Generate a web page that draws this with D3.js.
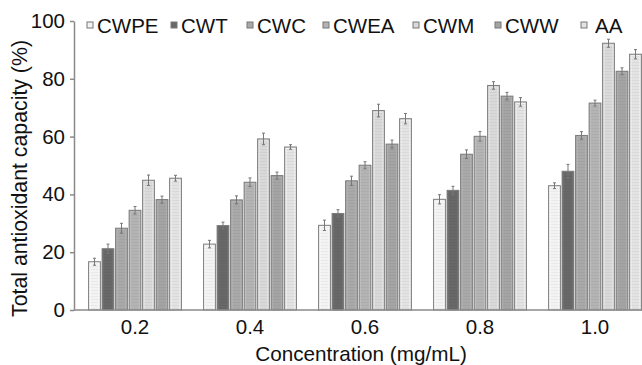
<!DOCTYPE html>
<html>
<head>
<meta charset="utf-8">
<script src="https://cdn.jsdelivr.net/npm/d3@7"></script>
<style>
  body { margin: 0; background: #fff; }
  svg text { font-family: "Liberation Sans", Arial, sans-serif; fill: #111; }
</style>
</head>
<body>
<div id="chart"></div>
<script>
// data
var concentrations = ["0.2", "0.4", "0.6", "0.8", "1.0"];
var seriesNames = ["CWPE", "CWT", "CWC", "CWEA", "CWM", "CWW", "AA"];
var values = [
  [16.7, 22.8, 29.3, 38.3, 43.0],   // CWPE
  [21.2, 29.2, 33.4, 41.4, 48.0],   // CWT
  [28.3, 38.1, 44.7, 53.9, 60.4],   // CWC
  [34.5, 44.2, 50.1, 60.1, 71.6],   // CWEA
  [44.9, 59.2, 69.0, 77.7, 92.3],   // CWM
  [38.2, 46.5, 57.4, 74.0, 82.6],   // CWW
  [45.6, 56.4, 66.2, 72.0, 88.5]    // AA
];
var errors = [
  [1.2, 1.3, 1.8, 1.6, 1.0],
  [1.6, 1.2, 1.3, 1.4, 2.4],
  [1.7, 1.4, 1.6, 1.5, 1.3],
  [1.3, 1.5, 1.2, 1.7, 1.0],
  [1.8, 2.0, 2.2, 1.3, 1.4],
  [1.2, 1.2, 1.4, 1.3, 1.2],
  [1.0, 0.8, 1.8, 1.5, 1.6]
];
var yTicks = [0, 20, 40, 60, 80, 100];
var fills = ["#f3f3f3", "#686868", "#a9a9a9", "#b4b4b4", "#d9d9d9", "#a4a4a4", "#e3e3e3"];
var legendX = [87, 171, 247, 323, 413, 495, 581];

var width = 642, height = 365;
var margin = {left: 74, top: 21, bottom: 55};

var svg = d3.select("#chart").append("svg")
    .attr("width", width)
    .attr("height", height);

// faint horizontal hatching like the printed bars
var defs = svg.append("defs");
fills.forEach(function(c, i) {
  var p = defs.append("pattern")
      .attr("id", "pat" + i)
      .attr("width", 4).attr("height", 3)
      .attr("patternUnits", "userSpaceOnUse");
  p.append("rect").attr("width", 4).attr("height", 3).attr("fill", c);
  p.append("rect").attr("y", 2).attr("width", 4).attr("height", 1)
      .attr("fill", d3.color(c).darker(0.12));
});

var yScale = d3.scaleLinear()
    .domain([0, 100])
    .range([height - margin.bottom, margin.top]);

var x0 = d3.scaleBand()
    .domain(concentrations)
    .range([77.5, 77.5 + 115 * concentrations.length])
    .paddingInner(0.178)
    .paddingOuter(0.089);

var x1 = d3.scaleBand()
    .domain(seriesNames)
    .range([0, x0.bandwidth()])
    .paddingInner(0.13)
    .paddingOuter(0.065);

var rows = [];
seriesNames.forEach(function(s, si) {
  concentrations.forEach(function(c, ci) {
    rows.push({s: s, si: si, c: c, v: values[si][ci], e: errors[si][ci]});
  });
});

svg.selectAll(".bar")
  .data(rows)
 .enter()
  .append("rect")
  .attr("class", "bar")
  .attr("x", function(d) { return x0(d.c) + x1(d.s); })
  .attr("y", function(d) { return yScale(d.v); })
  .attr("width", x1.bandwidth())
  .attr("height", function(d) { return yScale(0) - yScale(d.v); })
  .attr("fill", function(d) { return "url(#pat" + d.si + ")"; })
  .attr("stroke", "#7a7a7a")
  .attr("stroke-width", 1);

// inner light edge
svg.selectAll(".inner")
  .data(rows)
 .enter()
  .append("rect")
  .attr("x", function(d) { return x0(d.c) + x1(d.s) + 1.5; })
  .attr("y", function(d) { return yScale(d.v) + 1.5; })
  .attr("width", x1.bandwidth() - 3)
  .attr("height", function(d) { return Math.max(0, yScale(0) - yScale(d.v) - 1.5); })
  .attr("fill", "none")
  .attr("stroke", function(d) { return d3.color(fills[d.si]).brighter(0.3); })
  .attr("stroke-opacity", 0.6)
  .attr("stroke-width", 1);

// error bars
var eb = svg.selectAll(".err")
  .data(rows)
 .enter()
  .append("g")
  .attr("class", "err")
  .attr("stroke", "#777")
  .attr("stroke-width", 1);

eb.append("line")
  .attr("x1", function(d) { return x0(d.c) + x1(d.s) + x1.bandwidth() / 2; })
  .attr("x2", function(d) { return x0(d.c) + x1(d.s) + x1.bandwidth() / 2; })
  .attr("y1", function(d) { return yScale(d.v - d.e); })
  .attr("y2", function(d) { return yScale(d.v + d.e); });

eb.append("line")
  .attr("x1", function(d) { return x0(d.c) + x1(d.s) + x1.bandwidth() / 2 - 1.5; })
  .attr("x2", function(d) { return x0(d.c) + x1(d.s) + x1.bandwidth() / 2 + 1.5; })
  .attr("y1", function(d) { return yScale(d.v + d.e); })
  .attr("y2", function(d) { return yScale(d.v + d.e); });

eb.append("line")
  .attr("x1", function(d) { return x0(d.c) + x1(d.s) + x1.bandwidth() / 2 - 1.5; })
  .attr("x2", function(d) { return x0(d.c) + x1(d.s) + x1.bandwidth() / 2 + 1.5; })
  .attr("y1", function(d) { return yScale(d.v - d.e); })
  .attr("y2", function(d) { return yScale(d.v - d.e); });

// y axis
var yAxis = d3.axisLeft(yScale)
    .tickValues(yTicks)
    .tickSize(4)
    .tickSizeOuter(0)
    .tickPadding(5);

svg.append("g")
  .attr("class", "y axis")
  .attr("transform", "translate(" + margin.left + ",0)")
  .call(yAxis);

svg.select(".y.axis").selectAll("text")
  .style("font-size", "20.5px")
  .style("font-family", "Liberation Sans, Arial, sans-serif")
  .attr("fill", "#111");
svg.select(".y.axis").selectAll("line, path").attr("stroke", "#8a8a8a").attr("stroke-width", 1.5);

// x axis
var xAxis = d3.axisBottom(x0).tickSize(0).tickPadding(9);
svg.append("g")
  .attr("class", "x axis")
  .attr("transform", "translate(0," + yScale(0) + ")")
  .call(xAxis);

svg.select(".x.axis").select("path").remove();
svg.select(".x.axis").selectAll("text")
  .style("font-size", "20.5px")
  .style("font-family", "Liberation Sans, Arial, sans-serif")
  .attr("fill", "#111");

svg.append("line")
  .attr("x1", margin.left)
  .attr("x2", width)
  .attr("y1", yScale(0))
  .attr("y2", yScale(0))
  .attr("stroke", "#8a8a8a")
  .attr("stroke-width", 1.5);

// axis titles
svg.append("text")
  .attr("text-anchor", "middle")
  .attr("transform", "translate(27,178.5) rotate(-90)")
  .style("font-size", "21.3px")
  .text("Total antioxidant capacity (%)");

svg.append("text")
  .attr("text-anchor", "middle")
  .attr("x", 361)
  .attr("y", 361)
  .style("font-size", "20.7px")
  .text("Concentration (mg/mL)");

// legend
var legend = svg.selectAll(".legend")
  .data(seriesNames)
 .enter()
  .append("g")
  .attr("class", "legend")
  .attr("transform", function(d, i) { return "translate(" + legendX[i] + ",22)"; });

legend.append("rect")
  .attr("width", 6)
  .attr("height", 6)
  .attr("fill", function(d, i) { return fills[i]; })
  .attr("stroke", "#777")
  .attr("stroke-width", 1);

legend.append("text")
  .attr("x", function(d, i) { return i == 6 ? 14 : 10; })
  .attr("y", 11)
  .style("font-size", "20.5px")
  .text(function(d) { return d; });
</script>
</body>
</html>
